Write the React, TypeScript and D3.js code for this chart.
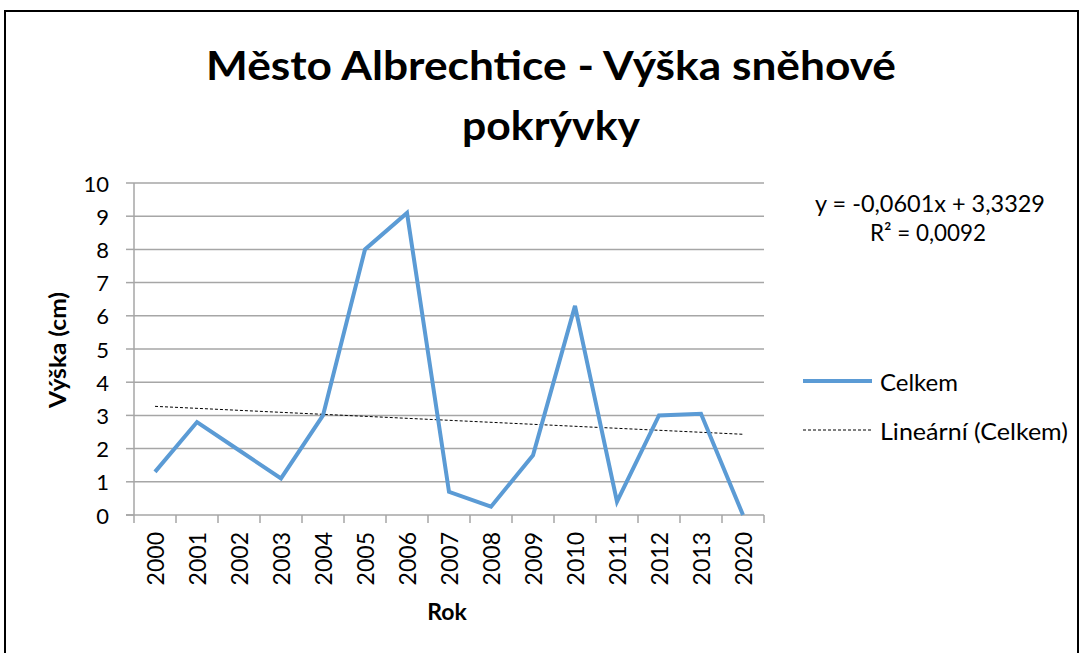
import * as d3 from "d3"

const years = ["2000", "2001", "2002", "2003", "2004", "2005", "2006", "2007", "2008", "2009", "2010", "2011", "2012", "2013", "2020"]
const celkem = [1.3, 2.8, 1.95, 1.1, 3.0, 8.0, 9.1, 0.7, 0.25, 1.8, 6.3, 0.4, 3.0, 3.05, 0]
const yTicks = [0, 1, 2, 3, 4, 5, 6, 7, 8, 9, 10]
const trendSlope = -0.0601
const trendIntercept = 3.3329
const titleLines = ["Město Albrechtice - Výška sněhové", "pokrývky"]
const equationLines = ["y = -0,0601x + 3,3329", "R² = 0,0092"]

const font = "Lato, 'Open Sans', sans-serif"
const blue = "#5b9bd5"
const grid = "#a6a6a6"

export default function App() {
  const width = 1082
  const height = 653
  const plot = { left: 134, right: 764, top: 183, bottom: 515 }

  const x = d3.scaleBand().domain(years).range([plot.left, plot.right])
  const y = d3.scaleLinear().domain([0, 10]).range([plot.bottom, plot.top])
  const cx = (d: string) => (x(d) ?? 0) + x.bandwidth() / 2

  const line = d3
    .line<number>()
    .x((_, i) => cx(years[i]))
    .y((d) => y(d))

  // linear trend as Excel shows it (x = 1..n)
  const trend = years.map((_, i) => trendSlope * (i + 1) + trendIntercept)

  const boundaries = d3.range(years.length + 1).map((i) => plot.left + i * x.bandwidth())

  return (
    <svg width={width} height={height} style={{ position: "absolute", left: 0, top: 0 }} fontFamily={font}>
      <rect x={0} y={0} width={width} height={height} fill="white" />
      <rect x={5} y={11} width={1073} height={700} fill="none" stroke="black" strokeWidth={2} />

      <text x={551} y={80} textAnchor="middle" fontSize={40} fontWeight="bold" textLength={690} lengthAdjust="spacingAndGlyphs">
        {titleLines[0]}
      </text>
      <text x={551} y={140} textAnchor="middle" fontSize={40} fontWeight="bold" textLength={178} lengthAdjust="spacingAndGlyphs">
        {titleLines[1]}
      </text>

      {yTicks.slice(1).map((t) => (
        <line key={t} x1={plot.left} x2={plot.right} y1={y(t)} y2={y(t)} stroke={grid} strokeWidth={1.5} />
      ))}
      <line x1={plot.left} x2={plot.left} y1={plot.top} y2={plot.bottom} stroke={grid} strokeWidth={1.5} />
      <line x1={plot.left - 8} x2={plot.right} y1={plot.bottom} y2={plot.bottom} stroke={grid} strokeWidth={1.5} />
      {yTicks.map((t) => (
        <g key={t}>
          <line x1={plot.left - 8} x2={plot.left} y1={y(t)} y2={y(t)} stroke={grid} strokeWidth={1.5} />
          <text x={109} y={y(t)} textAnchor="end" dominantBaseline="central" fontSize={22}>
            {t}
          </text>
        </g>
      ))}
      {boundaries.map((b, i) => (
        <line key={i} x1={b} x2={b} y1={plot.bottom} y2={plot.bottom + 8} stroke={grid} strokeWidth={1.5} />
      ))}
      {years.map((d) => (
        <text
          key={d}
          transform={`translate(${cx(d)}, ${plot.bottom + 17}) rotate(-90)`}
          textAnchor="end"
          dominantBaseline="central"
          fontSize={23}
        >
          {d}
        </text>
      ))}

      <path d={line(trend) ?? ""} fill="none" stroke="black" strokeWidth={1} strokeDasharray="3,2" />
      <path d={line(celkem) ?? ""} fill="none" stroke={blue} strokeWidth={4} strokeLinejoin="miter" />

      <text x={447} y={620} textAnchor="middle" fontSize={23} fontWeight="bold">
        Rok
      </text>
      <text
        transform="translate(66, 350) rotate(-90)"
        textAnchor="middle"
        fontSize={23}
        fontWeight="bold"
        textLength={116}
        lengthAdjust="spacingAndGlyphs"
      >
        Výška (cm)
      </text>

      <text x={930} y={212} textAnchor="middle" fontSize={23} textLength={230} lengthAdjust="spacingAndGlyphs">
        {equationLines[0]}
      </text>
      <text x={928} y={241} textAnchor="middle" fontSize={23} textLength={116} lengthAdjust="spacingAndGlyphs">
        {equationLines[1]}
      </text>

      <line x1={803} x2={872} y1={381} y2={381} stroke={blue} strokeWidth={4} />
      <text x={880} y={381} dominantBaseline="central" fontSize={24} textLength={78} lengthAdjust="spacingAndGlyphs">
        Celkem
      </text>
      <line x1={803} x2={872} y1={430} y2={430} stroke="black" strokeWidth={1} strokeDasharray="3,2" />
      <text x={880} y={430} dominantBaseline="central" fontSize={24} textLength={188} lengthAdjust="spacingAndGlyphs">
        Lineární (Celkem)
      </text>
    </svg>
  )
}
